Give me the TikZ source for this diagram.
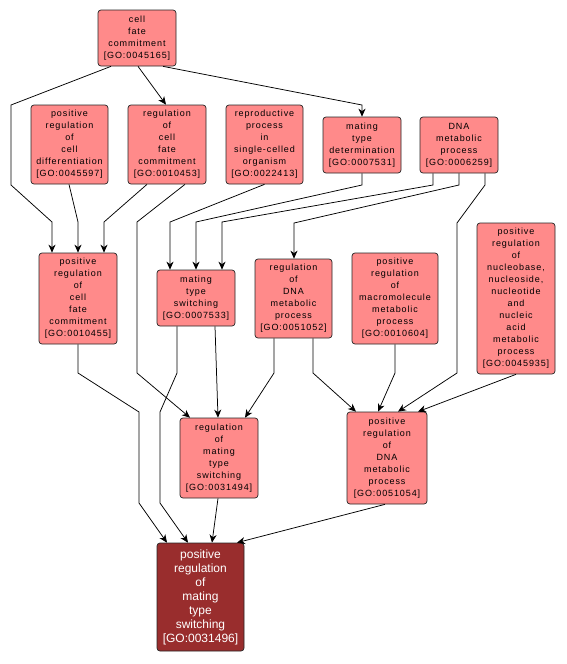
\documentclass[tikz,border=0pt]{standalone}
\usepackage{fontspec}
\newfontfamily\gofont[LetterSpace=10]{Liberation Sans}
\newfontfamily\gobig{Liberation Sans}
\usetikzlibrary{arrows.meta}
\definecolor{gopink}{RGB}{255,138,138}
\definecolor{godark}{RGB}{153,45,45}
\tikzset{
  gobox/.style={draw=black!85, fill=gopink, rounded corners=3pt, align=center,
    inner sep=0pt, line width=0.7pt, font=\gofont\fontsize{9}{12}\selectfont},
  gomain/.style={gobox, fill=godark, text=white, font=\gobig\fontsize{12}{14}\selectfont},
  edge/.style={line width=0.75pt, -{Stealth[length=8pt,width=7pt,inset=2.5pt]}}
}
\begin{document}
\begin{tikzpicture}[x=1pt,y=-1pt]
\useasboundingbox[fill=white] (0,0) rectangle (566,664);
\node[gobox, minimum width=78pt, minimum height=56pt] (n1) at (137,38) {cell\\fate\\commitment\\{[}GO:0045165{]}};
\node[gobox, minimum width=77pt, minimum height=79pt] (n2) at (69.5,144.5) {positive\\regulation\\of\\cell\\differentiation\\{[}GO:0045597{]}};
\node[gobox, minimum width=78pt, minimum height=79pt] (n3) at (167,144.5) {regulation\\of\\cell\\fate\\commitment\\{[}GO:0010453{]}};
\node[gobox, minimum width=77pt, minimum height=79pt] (n4) at (264.5,144.5) {reproductive\\process\\in\\single-celled\\organism\\{[}GO:0022413{]}};
\node[gobox, minimum width=78pt, minimum height=56pt] (n5) at (362,145) {mating\\type\\determination\\{[}GO:0007531{]}};
\node[gobox, minimum width=78pt, minimum height=56pt] (n6) at (459,145) {DNA\\metabolic\\process\\{[}GO:0006259{]}};
\node[gobox, minimum width=78pt, minimum height=91pt] (n7) at (78,298.5) {positive\\regulation\\of\\cell\\fate\\commitment\\{[}GO:0010455{]}};
\node[gobox, minimum width=78pt, minimum height=56pt] (n8) at (196,298) {mating\\type\\switching\\{[}GO:0007533{]}};
\node[gobox, minimum width=77pt, minimum height=79pt] (n9) at (293.5,298.5) {regulation\\of\\DNA\\metabolic\\process\\{[}GO:0051052{]}};
\node[gobox, minimum width=86pt, minimum height=91pt] (n10) at (395,298.5) {positive\\regulation\\of\\macromolecule\\metabolic\\process\\{[}GO:0010604{]}};
\node[gobox, minimum width=78pt, minimum height=151pt] (n11) at (516,298.5) {positive\\regulation\\of\\nucleobase,\\nucleoside,\\nucleotide\\and\\nucleic\\acid\\metabolic\\process\\{[}GO:0045935{]}};
\node[gobox, minimum width=78pt, minimum height=80pt] (n12) at (219,458) {regulation\\of\\mating\\type\\switching\\{[}GO:0031494{]}};
\node[gobox, minimum width=80pt, minimum height=92pt] (n13) at (387,458) {positive\\regulation\\of\\DNA\\metabolic\\process\\{[}GO:0051054{]}};
\node[gomain, minimum width=87pt, minimum height=108pt] (n14) at (200.5,597) {positive\\regulation\\of\\mating\\type\\switching\\{[}GO:0031496{]}};
% edges
\draw[edge] ([xshift=1pt]n1.south) -- ([xshift=-1pt]n3.north);
\draw[edge] ([xshift=26pt]n1.south) -- (362,105) -- (n5.north);
\draw[edge] ([xshift=-26pt]n1.south) -- (11,105) -- (11,185) -- (52,222) -- ([xshift=-26pt]n7.north);
\draw[edge] ([xshift=-0.5pt]n2.south) -- (78,222) -- (n7.north);
\draw[edge] ([xshift=-20pt]n3.south) -- (104,222) -- ([xshift=26pt]n7.north);
\draw[edge] ([xshift=18pt]n3.south) -- (137,222) -- (137,373) -- ([xshift=-29pt]n12.north);
\draw[edge] (n4.south) -- (170,222) -- ([xshift=-26pt]n8.north);
\draw[edge] (n5.south) -- (362,185) -- (196,222) -- (n8.north);
\draw[edge] ([xshift=-26pt]n6.south) -- (433,185) -- (222,222) -- ([xshift=26pt]n8.north);
\draw[edge] (n6.south) -- (459,185) -- (294,223) -- ([xshift=0.5pt]n9.north);
\draw[edge] ([xshift=26pt]n6.south) -- (485,185) -- (457,223) -- (457,373) -- ([xshift=11pt]n13.north);
\draw[edge] (n7.south) -- (78,373) -- (139,412) -- (139,503) -- ([xshift=-33.5pt]n14.north);
\draw[edge] ([xshift=-19pt]n8.south) -- (177,373) -- (160,412) -- (160,503) -- ([xshift=-12.5pt]n14.north);
\draw[edge] ([xshift=19pt]n8.south) -- ([xshift=-1pt]n12.north);
\draw[edge] ([xshift=-19.5pt]n9.south) -- (274,373) -- ([xshift=26pt]n12.north);
\draw[edge] ([xshift=19.5pt]n9.south) -- (313,373) -- ([xshift=-31pt]n13.north);
\draw[edge] (n10.south) -- (395,373) -- ([xshift=-9pt]n13.north);
\draw[edge] (n11.south) -- ([xshift=31pt]n13.north);
\draw[edge] ([xshift=-1pt]n12.south) -- ([xshift=11.5pt]n14.north);
\draw[edge] ([xshift=-2pt]n13.south) -- ([xshift=36.5pt]n14.north);
\end{tikzpicture}
\end{document}
